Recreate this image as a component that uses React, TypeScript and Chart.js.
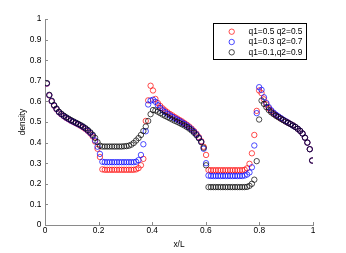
import { useEffect, useRef } from "react";
import { Chart, registerables } from "chart.js";

Chart.register(...registerables);

const xPositions = [
  0.007, 0.016, 0.025, 0.034, 0.043, 0.052, 0.061, 0.070, 0.079, 0.088,
  0.097, 0.106, 0.115, 0.124, 0.133, 0.142, 0.151, 0.160, 0.169, 0.178,
  0.187, 0.196, 0.205, 0.214, 0.223, 0.232, 0.241, 0.250, 0.259, 0.268,
  0.277, 0.286, 0.295, 0.304, 0.313, 0.322, 0.331, 0.340, 0.349, 0.358,
  0.367, 0.376, 0.385, 0.394, 0.403, 0.412, 0.421, 0.430, 0.439, 0.448,
  0.457, 0.466, 0.475, 0.484, 0.493, 0.502, 0.511, 0.520, 0.529, 0.538,
  0.547, 0.556, 0.565, 0.574, 0.583, 0.592, 0.601, 0.610, 0.619, 0.628,
  0.637, 0.646, 0.655, 0.664, 0.673, 0.682, 0.691, 0.700, 0.709, 0.718,
  0.727, 0.736, 0.745, 0.754, 0.763, 0.772, 0.781, 0.790, 0.799, 0.808,
  0.817, 0.826, 0.835, 0.844, 0.853, 0.862, 0.871, 0.880, 0.889, 0.898,
  0.907, 0.916, 0.925, 0.934, 0.943, 0.952, 0.961, 0.970, 0.979, 0.988,
  0.997,
];

// q1=0.5 q2=0.5 (red)
const densityA = [
  0.686, 0.629, 0.600, 0.579, 0.562, 0.547, 0.537, 0.528, 0.520, 0.513,
  0.506, 0.500, 0.494, 0.488, 0.481, 0.474, 0.466, 0.456, 0.445, 0.430,
  0.405, 0.370, 0.330, 0.270, 0.268, 0.268, 0.268, 0.268, 0.268, 0.268,
  0.268, 0.268, 0.268, 0.268, 0.268, 0.268, 0.268, 0.270, 0.276, 0.290,
  0.321, 0.505, 0.605, 0.676, 0.653, 0.612, 0.592, 0.578, 0.566, 0.556,
  0.547, 0.539, 0.532, 0.524, 0.517, 0.510, 0.503, 0.495, 0.487, 0.478,
  0.468, 0.456, 0.443, 0.427, 0.407, 0.380, 0.340, 0.267, 0.266, 0.266,
  0.266, 0.266, 0.266, 0.266, 0.266, 0.266, 0.266, 0.266, 0.266, 0.266,
  0.266, 0.266, 0.268, 0.275, 0.297, 0.348, 0.437, 0.554, 0.653, 0.640,
  0.610, 0.585, 0.567, 0.553, 0.542, 0.533, 0.525, 0.517, 0.510, 0.503,
  0.497, 0.490, 0.484, 0.476, 0.467, 0.457, 0.444, 0.424, 0.400, 0.368,
  0.313,
];

// q1=0.3 q2=0.7 (blue)
const densityB = [
  0.687, 0.630, 0.601, 0.580, 0.563, 0.548, 0.538, 0.529, 0.521, 0.514,
  0.507, 0.501, 0.495, 0.489, 0.483, 0.476, 0.468, 0.458, 0.447, 0.434,
  0.410, 0.380, 0.345, 0.307, 0.305, 0.305, 0.305, 0.305, 0.305, 0.305,
  0.305, 0.305, 0.305, 0.305, 0.305, 0.305, 0.305, 0.307, 0.315, 0.340,
  0.392, 0.455, 0.585, 0.604, 0.608, 0.598, 0.582, 0.568, 0.557, 0.548,
  0.540, 0.532, 0.525, 0.518, 0.512, 0.505, 0.498, 0.491, 0.483, 0.474,
  0.464, 0.453, 0.440, 0.424, 0.404, 0.370, 0.300, 0.240, 0.238, 0.238,
  0.238, 0.238, 0.238, 0.238, 0.238, 0.238, 0.238, 0.238, 0.238, 0.238,
  0.238, 0.238, 0.240, 0.245, 0.255, 0.280, 0.386, 0.543, 0.669, 0.656,
  0.620, 0.592, 0.572, 0.557, 0.545, 0.535, 0.527, 0.519, 0.511, 0.504,
  0.497, 0.490, 0.483, 0.476, 0.467, 0.457, 0.444, 0.424, 0.400, 0.368,
  0.313,
];

// q1=0.1,q2=0.9 (black)
const densityC = [
  0.689, 0.632, 0.603, 0.582, 0.565, 0.550, 0.540, 0.531, 0.523, 0.516,
  0.509, 0.503, 0.497, 0.491, 0.485, 0.478, 0.470, 0.461, 0.450, 0.438,
  0.423, 0.402, 0.385, 0.381, 0.381, 0.381, 0.381, 0.381, 0.381, 0.381,
  0.381, 0.381, 0.382, 0.383, 0.385, 0.390, 0.398, 0.410, 0.422, 0.437,
  0.456, 0.478, 0.505, 0.538, 0.558, 0.556, 0.550, 0.543, 0.536, 0.530,
  0.524, 0.518, 0.512, 0.506, 0.501, 0.495, 0.489, 0.483, 0.476, 0.468,
  0.459, 0.448, 0.436, 0.421, 0.402, 0.375, 0.290, 0.184, 0.184, 0.184,
  0.184, 0.184, 0.184, 0.184, 0.184, 0.184, 0.184, 0.184, 0.184, 0.184,
  0.184, 0.184, 0.184, 0.185, 0.190, 0.200, 0.220, 0.310, 0.512, 0.604,
  0.588, 0.572, 0.558, 0.547, 0.538, 0.530, 0.523, 0.516, 0.509, 0.502,
  0.496, 0.490, 0.483, 0.476, 0.467, 0.457, 0.444, 0.424, 0.400, 0.368,
  0.313,
];

const seriesLabels = ["q1=0.5 q2=0.5", "q1=0.3 q2=0.7", "q1=0.1,q2=0.9"];
const seriesColors = ["#ff0000", "#0000ff", "#000000"];

const xTickValues = [0, 0.2, 0.4, 0.6, 0.8, 1];
const xTickLabels = ["0", "0.2", "0.4", "0.6", "0.8", "1"];
const yTickValues = [0, 0.1, 0.2, 0.3, 0.4, 0.5, 0.6, 0.7, 0.8, 0.9, 1];
const yTickLabels = ["0", "0.1", "0.2", "0.3", "0.4", "0.5", "0.6", "0.7", "0.8", "0.9", "1"];

const xTitle = "x/L";
const yTitle = "density";

const FONT = '"Liberation Sans", Arial, sans-serif';
const AXIS_COLOR = "#8a8a8a";

const inwardTicks = {
  id: "inwardTicks",
  afterDatasetsDraw(chart: any) {
    const { ctx, chartArea, scales } = chart;
    ctx.save();
    ctx.strokeStyle = AXIS_COLOR;
    ctx.lineWidth = 1;
    scales.x.ticks.forEach((t: any) => {
      const px = Math.round(scales.x.getPixelForValue(t.value)) + 0.5;
      ctx.beginPath();
      ctx.moveTo(px, chartArea.bottom);
      ctx.lineTo(px, chartArea.bottom - 3);
      ctx.stroke();
    });
    scales.y.ticks.forEach((t: any) => {
      const py = Math.round(scales.y.getPixelForValue(t.value)) + 0.5;
      ctx.beginPath();
      ctx.moveTo(chartArea.left, py);
      ctx.lineTo(chartArea.left + 3, py);
      ctx.stroke();
    });
    ctx.restore();
  },
};

const boxLegend = {
  id: "boxLegend",
  afterDraw(chart: any) {
    const { ctx, chartArea } = chart;
    const w = 93;
    const h = 36;
    const x0 = Math.round(chartArea.right - 7 - w) + 0.5;
    const y0 = Math.round(chartArea.top + 4) + 0.5;
    ctx.save();
    ctx.fillStyle = "#ffffff";
    ctx.fillRect(x0, y0, w, h);
    ctx.strokeStyle = "#000000";
    ctx.lineWidth = 1;
    ctx.strokeRect(x0, y0, w, h);
    ctx.font = `8.4px ${FONT}`;
    ctx.textBaseline = "middle";
    ctx.textAlign = "left";
    chart.data.datasets.forEach((ds: any, i: number) => {
      const cy = y0 + 8.2 + i * 10.3;
      ctx.beginPath();
      ctx.arc(x0 + 18.2, cy, 2.7, 0, Math.PI * 2);
      ctx.strokeStyle = ds.borderColor;
      ctx.lineWidth = 0.7;
      ctx.stroke();
      ctx.fillStyle = "#000000";
      ctx.fillText(ds.label, x0 + 35, cy);
    });
    ctx.restore();
  },
};

export default function App() {
  const canvasRef = useRef<HTMLCanvasElement | null>(null);

  useEffect(() => {
    document.body.style.margin = "0";
    const canvas = canvasRef.current;
    if (!canvas) return;
    const orders = [3, 2, 1];
    const series = [densityA, densityB, densityC];
    const chart = new Chart(canvas, {
      type: "scatter",
      data: {
        datasets: series.map((vals, i) => ({
          label: seriesLabels[i],
          data: xPositions.map((x, j) => ({ x, y: vals[j] })),
          borderColor: seriesColors[i],
          backgroundColor: "rgba(0,0,0,0)",
          pointRadius: 2.7,
          pointBorderWidth: 0.7,
          pointStyle: "circle",
          showLine: false,
          order: orders[i],
        })),
      },
      options: {
        animation: false,
        responsive: false,
        devicePixelRatio: 1,
        layout: { padding: { left: 0, right: 33, top: 19, bottom: 0 } },
        plugins: {
          legend: { display: false },
          tooltip: { enabled: false },
        },
        scales: {
          x: {
            type: "linear",
            min: 0,
            max: 1,
            afterBuildTicks: (scale: any) => {
              scale.ticks = xTickValues.map((v) => ({ value: v }));
            },
            afterFit: (scale: any) => {
              scale.height = 28;
            },
            grid: { display: false, drawTicks: false },
            border: { display: true, color: AXIS_COLOR, width: 1 },
            ticks: {
              autoSkip: false,
              maxRotation: 0,
              padding: 1,
              color: "#000000",
              font: { family: FONT, size: 8.4 },
              callback: (_v: any, idx: number) => xTickLabels[idx],
            },
            title: {
              display: true,
              text: xTitle,
              color: "#000000",
              font: { family: FONT, size: 8.4 },
              padding: { top: 0, bottom: 3 },
            },
          },
          y: {
            type: "linear",
            min: 0,
            max: 1,
            afterBuildTicks: (scale: any) => {
              scale.ticks = yTickValues.map((v) => ({ value: v }));
            },
            afterFit: (scale: any) => {
              scale.width = 45;
            },
            grid: { display: false, drawTicks: false },
            border: { display: true, color: AXIS_COLOR, width: 1 },
            ticks: {
              autoSkip: false,
              padding: 3.5,
              color: "#000000",
              font: { family: FONT, size: 8.4 },
              callback: (_v: any, idx: number) => yTickLabels[idx],
            },
            title: {
              display: true,
              text: yTitle,
              color: "#000000",
              font: { family: FONT, size: 8.4 },
              padding: { top: 17.5, bottom: 0 },
            },
          },
        },
      },
      plugins: [inwardTicks, boxLegend],
    });
    return () => chart.destroy();
  }, []);

  return (
    <div style={{ width: 346, height: 253, background: "#ffffff" }}>
      <canvas ref={canvasRef} width={346} height={253} />
    </div>
  );
}
